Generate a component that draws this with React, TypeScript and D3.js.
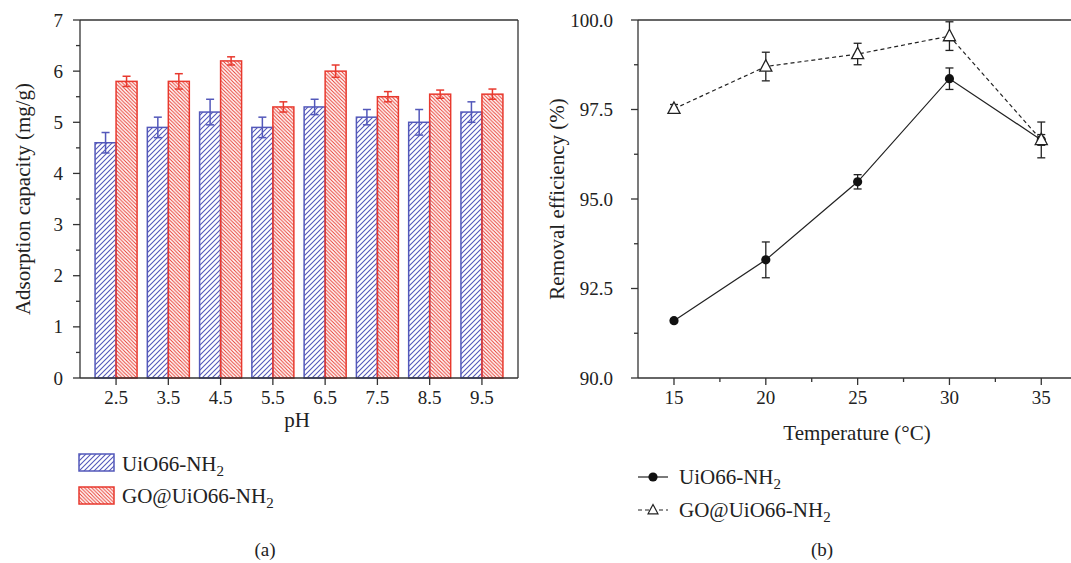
import React from 'react';
import * as d3 from 'd3';

// ---------- Panel (a) data ----------
const phCategories = ['2.5', '3.5', '4.5', '5.5', '6.5', '7.5', '8.5', '9.5'];
const uioCapacity = [4.6, 4.9, 5.2, 4.9, 5.3, 5.1, 5.0, 5.2];
const uioCapacityErr = [0.2, 0.2, 0.25, 0.2, 0.15, 0.15, 0.25, 0.2];
const goCapacity = [5.8, 5.8, 6.2, 5.3, 6.0, 5.5, 5.55, 5.55];
const goCapacityErr = [0.1, 0.15, 0.08, 0.1, 0.12, 0.1, 0.08, 0.1];
const capacityTicks = [0, 1, 2, 3, 4, 5, 6, 7];
const capacityMinorTicks = [0.5, 1.5, 2.5, 3.5, 4.5, 5.5, 6.5];

// ---------- Panel (b) data ----------
const temperatures = [15, 20, 25, 30, 35];
const uioRemoval = [91.6, 93.3, 95.48, 98.36, 96.65];
const uioRemovalErr = [0.05, 0.5, 0.2, 0.3, 0.15];
const goRemoval = [97.52, 98.7, 99.05, 99.55, 96.65];
const goRemovalErr = [0.12, 0.4, 0.3, 0.4, 0.5];
const removalTicks = [90, 92.5, 95, 97.5, 100];
const removalMinorTicks = [91.25, 93.75, 96.25, 98.75];
const tempTicks = [15, 20, 25, 30, 35];
const tempMinorTicks = [17.5, 22.5, 27.5, 32.5];

const FONT = '"Liberation Serif", "Times New Roman", serif';
const AXIS = '#333';
const BLUE = '#5358ba';
const RED = '#e8392e';

function Sub2({ size }: { size: number }) {
  return (
    <tspan fontSize={size} dy={5}>
      2
    </tspan>
  );
}

function PanelA() {
  const left = 80, right = 518, top = 20, bottom = 378;
  const x = d3.scalePoint<string>().domain(phCategories).range([left, right]).padding(0.69);
  const y = d3.scaleLinear().domain([0, 7]).range([bottom, top]);
  const barW = 21;
  const cap = 4;
  return (
    <g>
      {phCategories.map((c, i) => {
        const cx = x(c)!;
        const ub = y(uioCapacity[i]);
        const gb = y(goCapacity[i]);
        return (
          <g key={c}>
            <rect x={cx - barW} y={ub} width={barW} height={bottom - ub} fill="url(#hatchBlue)" stroke={BLUE} strokeWidth={1.5} />
            <rect x={cx} y={gb} width={barW} height={bottom - gb} fill="url(#hatchRed)" stroke={RED} strokeWidth={1.5} />
            <g stroke={BLUE} strokeWidth={1.5}>
              <line x1={cx - barW / 2} x2={cx - barW / 2} y1={y(uioCapacity[i] + uioCapacityErr[i])} y2={y(uioCapacity[i] - uioCapacityErr[i])} />
              <line x1={cx - barW / 2 - cap} x2={cx - barW / 2 + cap} y1={y(uioCapacity[i] + uioCapacityErr[i])} y2={y(uioCapacity[i] + uioCapacityErr[i])} />
              <line x1={cx - barW / 2 - cap} x2={cx - barW / 2 + cap} y1={y(uioCapacity[i] - uioCapacityErr[i])} y2={y(uioCapacity[i] - uioCapacityErr[i])} />
            </g>
            <g stroke={RED} strokeWidth={1.5}>
              <line x1={cx + barW / 2} x2={cx + barW / 2} y1={y(goCapacity[i] + goCapacityErr[i])} y2={y(goCapacity[i] - goCapacityErr[i])} />
              <line x1={cx + barW / 2 - cap} x2={cx + barW / 2 + cap} y1={y(goCapacity[i] + goCapacityErr[i])} y2={y(goCapacity[i] + goCapacityErr[i])} />
              <line x1={cx + barW / 2 - cap} x2={cx + barW / 2 + cap} y1={y(goCapacity[i] - goCapacityErr[i])} y2={y(goCapacity[i] - goCapacityErr[i])} />
            </g>
          </g>
        );
      })}
      <g stroke={AXIS} strokeWidth={1.3} fill="none">
        <line x1={left} x2={right} y1={top} y2={top} />
        <line x1={right} x2={right} y1={top} y2={bottom} />
        <line x1={left} x2={right} y1={bottom} y2={bottom} />
        <line x1={left} x2={left} y1={top} y2={bottom} />
        {capacityTicks.map((t) => (
          <line key={'t' + t} x1={left - 7} x2={left} y1={y(t)} y2={y(t)} />
        ))}
        {capacityMinorTicks.map((t) => (
          <line key={'m' + t} x1={left - 4} x2={left} y1={y(t)} y2={y(t)} />
        ))}
        {phCategories.map((c) => (
          <line key={'x' + c} x1={x(c)!} x2={x(c)!} y1={bottom} y2={bottom + 7} />
        ))}
      </g>
      <g fontFamily={FONT} fontSize={19} fill="#222">
        {capacityTicks.map((t) => (
          <text key={'l' + t} x={63} y={y(t) + 6.5} textAnchor="end">
            {t}
          </text>
        ))}
        {phCategories.map((c) => (
          <text key={'xl' + c} x={x(c)!} y={404} textAnchor="middle">
            {c}
          </text>
        ))}
      </g>
      <text x={297} y={427} fontFamily={FONT} fontSize={21} fill="#222" textAnchor="middle">
        pH
      </text>
      <text
        transform={`translate(30,${(top + bottom) / 2}) rotate(-90)`}
        fontFamily={FONT}
        fontSize={21}
        fill="#222"
        textAnchor="middle"
      >
        Adsorption capacity (mg/g)
      </text>
      <rect x={79} y={454} width={35} height={17} fill="url(#hatchBlue)" stroke={BLUE} strokeWidth={1.5} />
      <rect x={79} y={487} width={35} height={17} fill="url(#hatchRed)" stroke={RED} strokeWidth={1.5} />
      <g fontFamily={FONT} fontSize={21} fill="#222">
        <text x={122} y={471}>
          UiO66-NH<Sub2 size={15} />
        </text>
        <text x={122} y={503}>
          GO@UiO66-NH<Sub2 size={15} />
        </text>
      </g>
    </g>
  );
}

function PanelB() {
  const left = 638, right = 1078, top = 20, bottom = 378;
  const x = d3.scaleLinear().domain([13.04, 37]).range([left, right]);
  const y = d3.scaleLinear().domain([90, 100]).range([bottom, top]);
  const line = d3
    .line<number>()
    .x((_, i) => x(temperatures[i]))
    .y((d) => y(d));
  const cap = 4;
  const tri = (cx: number, cy: number, s: number) =>
    `M${cx},${cy - s * 0.62} L${cx + s * 0.55},${cy + s * 0.42} L${cx - s * 0.55},${cy + s * 0.42} Z`;
  const errBars = (vals: number[], errs: number[], key: string) =>
    vals.map((v, i) => {
      const cx = x(temperatures[i]);
      const y1 = y(v + errs[i]);
      const y2 = y(v - errs[i]);
      return (
        <g key={key + i} stroke="#222" strokeWidth={1.3}>
          <line x1={cx} x2={cx} y1={y1} y2={y2} />
          <line x1={cx - cap} x2={cx + cap} y1={y1} y2={y1} />
          <line x1={cx - cap} x2={cx + cap} y1={y2} y2={y2} />
        </g>
      );
    });
  return (
    <g>
      {errBars(goRemoval, goRemovalErr, 'ge')}
      {errBars(uioRemoval, uioRemovalErr, 'ue')}
      <path d={line(goRemoval)!} fill="none" stroke="#222" strokeWidth={1.2} strokeDasharray="4,3" />
      <path d={line(uioRemoval)!} fill="none" stroke="#222" strokeWidth={1.2} />
      {uioRemoval.map((v, i) => (
        <circle key={'c' + i} cx={x(temperatures[i])} cy={y(v)} r={4.6} fill="#111" />
      ))}
      {goRemoval.map((v, i) => (
        <path key={'tr' + i} d={tri(x(temperatures[i]), y(v), 11)} fill="#fff" stroke="#222" strokeWidth={1.3} />
      ))}
      <g stroke={AXIS} strokeWidth={1.3} fill="none">
        <line x1={left} x2={right} y1={top} y2={top} />
        <line x1={right} x2={right} y1={top} y2={bottom} />
        <line x1={left} x2={right} y1={bottom} y2={bottom} />
        <line x1={left} x2={left} y1={top} y2={bottom} />
        {removalTicks.map((t) => (
          <line key={'t' + t} x1={left - 7} x2={left} y1={y(t)} y2={y(t)} />
        ))}
        {removalMinorTicks.map((t) => (
          <line key={'m' + t} x1={left - 4} x2={left} y1={y(t)} y2={y(t)} />
        ))}
        {tempTicks.map((t) => (
          <line key={'x' + t} x1={x(t)} x2={x(t)} y1={bottom} y2={bottom + 7} />
        ))}
        {tempMinorTicks.map((t) => (
          <line key={'xm' + t} x1={x(t)} x2={x(t)} y1={bottom} y2={bottom + 4} />
        ))}
      </g>
      <g fontFamily={FONT} fontSize={19} fill="#222">
        {removalTicks.map((t) => (
          <text key={'l' + t} x={613} y={y(t) + 6.5} textAnchor="end">
            {d3.format('.1f')(t)}
          </text>
        ))}
        {tempTicks.map((t) => (
          <text key={'xl' + t} x={x(t)} y={404} textAnchor="middle">
            {t}
          </text>
        ))}
      </g>
      <text x={857} y={440} fontFamily={FONT} fontSize={21} fill="#222" textAnchor="middle">
        Temperature (°C)
      </text>
      <text
        transform={`translate(564,${(top + bottom) / 2}) rotate(-90)`}
        fontFamily={FONT}
        fontSize={21}
        fill="#222"
        textAnchor="middle"
      >
        Removal efficiency (%)
      </text>
      <line x1={638} x2={668} y1={477} y2={477} stroke="#222" strokeWidth={1.2} />
      <circle cx={653} cy={477} r={4.6} fill="#111" />
      <line x1={638} x2={668} y1={510} y2={510} stroke="#222" strokeWidth={1.2} strokeDasharray="4,3" />
      <path d={tri(653, 510, 9)} fill="#fff" stroke="#222" strokeWidth={1.2} />
      <g fontFamily={FONT} fontSize={21} fill="#222">
        <text x={679} y={484}>
          UiO66-NH<Sub2 size={15} />
        </text>
        <text x={679} y={517}>
          GO@UiO66-NH<Sub2 size={15} />
        </text>
      </g>
    </g>
  );
}

export default function App() {
  return (
    <svg
      width={1071}
      height={563}
      viewBox="0 0 1071 563"
      style={{ position: 'absolute', left: 0, top: 0, display: 'block', background: '#fff' }}
    >
      <defs>
        <pattern id="hatchBlue" patternUnits="userSpaceOnUse" width={5} height={5}>
          <path d="M-1,1 l2,-2 M0,5 l5,-5 M4,6 l2,-2" stroke={BLUE} strokeWidth={1.1} />
        </pattern>
        <pattern id="hatchRed" patternUnits="userSpaceOnUse" width={3.6} height={3.6}>
          <path d="M-1,2.6 l2,2 M0,0 l3.6,3.6 M2.6,-1 l2,2" stroke={RED} strokeWidth={1} />
        </pattern>
      </defs>
      <rect x={0} y={0} width={1071} height={563} fill="#fff" />
      <PanelA />
      <PanelB />
      <g fontFamily={FONT} fontSize={19} fill="#222" textAnchor="middle">
        <text x={265} y={556}>(a)</text>
        <text x={822} y={556}>(b)</text>
      </g>
    </svg>
  );
}
